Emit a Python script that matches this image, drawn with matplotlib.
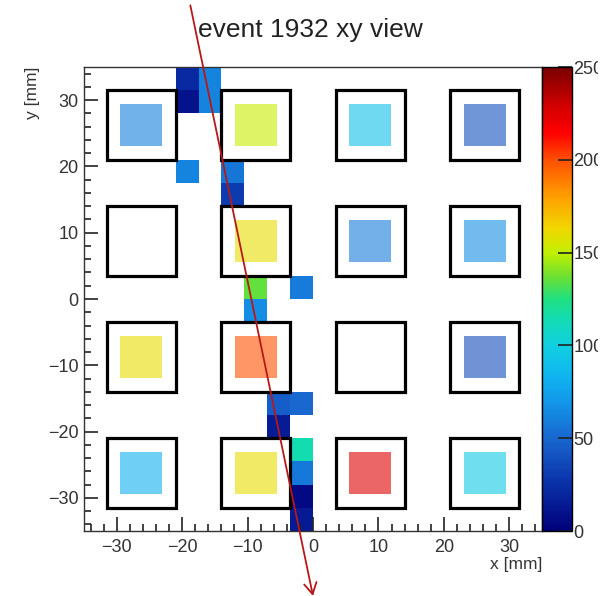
import numpy as np
import matplotlib
matplotlib.use("Agg")
import matplotlib.pyplot as plt
from matplotlib.colors import LinearSegmentedColormap
from matplotlib.patches import Rectangle
from matplotlib.transforms import Bbox

plt.rcParams['font.family'] = ['Liberation Sans', 'DejaVu Sans']

# ---------------- data ----------------
title = "event 1932 xy view"
bin_edges = np.linspace(-35, 35, 21)

# hit cells (bin centres, mm) and their charge
hit_x = [-19.25, -19.25, -15.75, -15.75, -19.25, -12.25, -12.25, -8.75, -8.75,
         -1.75, -5.25, -1.75, -5.25, -1.75, -1.75, -1.75, -1.75]
hit_y = [33.25, 29.75, 33.25, 29.75, 19.25, 19.25, 15.75, 1.75, -1.75,
         1.75, -15.75, -15.75, -19.25, -22.75, -26.25, -29.75, -33.25]
hit_val = [22, 10, 62, 62, 62, 56, 30, 135, 66,
           58, 45, 50, 15, 115, 57, 5, 14]

# detector pads (4x4)
pad_x = [-26.25, -8.75, 8.75, 26.25]
pad_y = [26.25, 8.75, -8.75, -26.25]
pad_val = [[60, 152, 90, 40],
           [np.nan, 160, 58, 66],
           [160, 200, np.nan, 38],
           [82, 160, 225, 95]]

# fitted track (start -> end, mm)
track_x = [-18.75, 0.0]
track_y = [44.3, -44.8]

cbar_ticks = [0, 50, 100, 150, 200, 250]

# ---------------- colormap ----------------
stops = [(0.0, '#00007a'), (0.10, '#0a30a8'), (0.20, '#1868d0'), (0.28, '#1298ea'),
         (0.34, '#10b8f0'), (0.40, '#10d0e0'), (0.46, '#14dcb0'), (0.50, '#20e080'),
         (0.55, '#70e030'), (0.60, '#c0f000'), (0.65, '#f0d800'), (0.72, '#ffa000'),
         (0.80, '#ff5000'), (0.86, '#ff0000'), (0.92, '#d00000'), (1.0, '#7a0000')]
cmap = LinearSegmentedColormap.from_list('rootpal', stops)

W, H = 615, 596
fig = plt.figure(figsize=(W / 100, H / 100), dpi=100)
ax = fig.add_axes([84 / W, 1 - 531 / H, (542 - 84) / W, (531 - 67) / H])
cax = fig.add_axes([542 / W, 1 - 531 / H, 30 / W, (531 - 67) / H])

# histogram of hits
Hh, _, _ = np.histogram2d(hit_x, hit_y, bins=[bin_edges, bin_edges], weights=hit_val)
Hm = np.ma.masked_where(Hh.T <= 0, Hh.T)
mesh = ax.pcolormesh(bin_edges, bin_edges, Hm, cmap=cmap, vmin=0, vmax=250, zorder=1)

# pads
frame = 10.5
inner = 6.4
for j, py in enumerate(pad_y):
    for i, px in enumerate(pad_x):
        v = pad_val[j][i]
        if not np.isnan(v):
            ax.add_patch(Rectangle((px - inner / 2, py - inner / 2), inner, inner,
                                   facecolor=cmap(v / 250), alpha=0.6,
                                   edgecolor='none', zorder=2))
        ax.add_patch(Rectangle((px - frame / 2, py - frame / 2), frame, frame,
                               facecolor='none', edgecolor='black', lw=2.3, zorder=3))

ax.set_xlim(-35, 35)
ax.set_ylim(-35, 35)
ax.set_xticks([-30, -20, -10, 0, 10, 20, 30])
ax.set_yticks([-30, -20, -10, 0, 10, 20, 30])
ax.set_xticks(np.arange(-34, 35, 2), minor=True)
ax.set_yticks(np.arange(-34, 35, 2), minor=True)
ax.tick_params(which='both', direction='in', top=False, right=False, width=1.2, color='#222222')
ax.tick_params(which='major', length=10)
ax.tick_params(which='minor', length=5)
ax.tick_params(axis='x', pad=6, labelsize=13, labelcolor='#333333')
ax.tick_params(axis='y', pad=4, labelsize=13, labelcolor='#333333')
for s in ax.spines.values():
    s.set_linewidth(1.0)
    s.set_color('#333333')

ax.set_xlabel('x [mm]', fontsize=12.5, color='#333333')
ax.xaxis.set_label_coords(1.0, -0.055)
ax.xaxis.label.set_horizontalalignment('right')
ax.set_ylabel('y [mm]', fontsize=12.5, color='#333333')
ax.yaxis.set_label_coords(-0.095, 1.0)
ax.yaxis.label.set_horizontalalignment('right')

# track arrow
ax.annotate('', xy=(track_x[1], track_y[1]), xytext=(track_x[0], track_y[0]),
            arrowprops=dict(arrowstyle='->,head_length=0.8,head_width=0.45',
                            color='#b81818', lw=1.3, shrinkA=0, shrinkB=0),
            annotation_clip=False, zorder=5)

# colorbar
cb = fig.colorbar(mesh, cax=cax, ticks=cbar_ticks)
cb.outline.set_linewidth(1.0)
cb.outline.set_edgecolor('black')
cax.minorticks_off()
cax.tick_params(direction='in', length=10, width=1.2, pad=1, labelsize=13,
                labelcolor='#333333', color='#222222')
clip = Bbox.from_extents(0, 0, 598, H)
for lab in cax.get_yticklabels():
    lab.set_clip_box(clip)
    lab.set_clip_on(True)

fig.text(0.505, 1 - 30 / H, title, ha='center', va='center', fontsize=19, color='#222222')

fig.savefig('out.png', dpi=100)
